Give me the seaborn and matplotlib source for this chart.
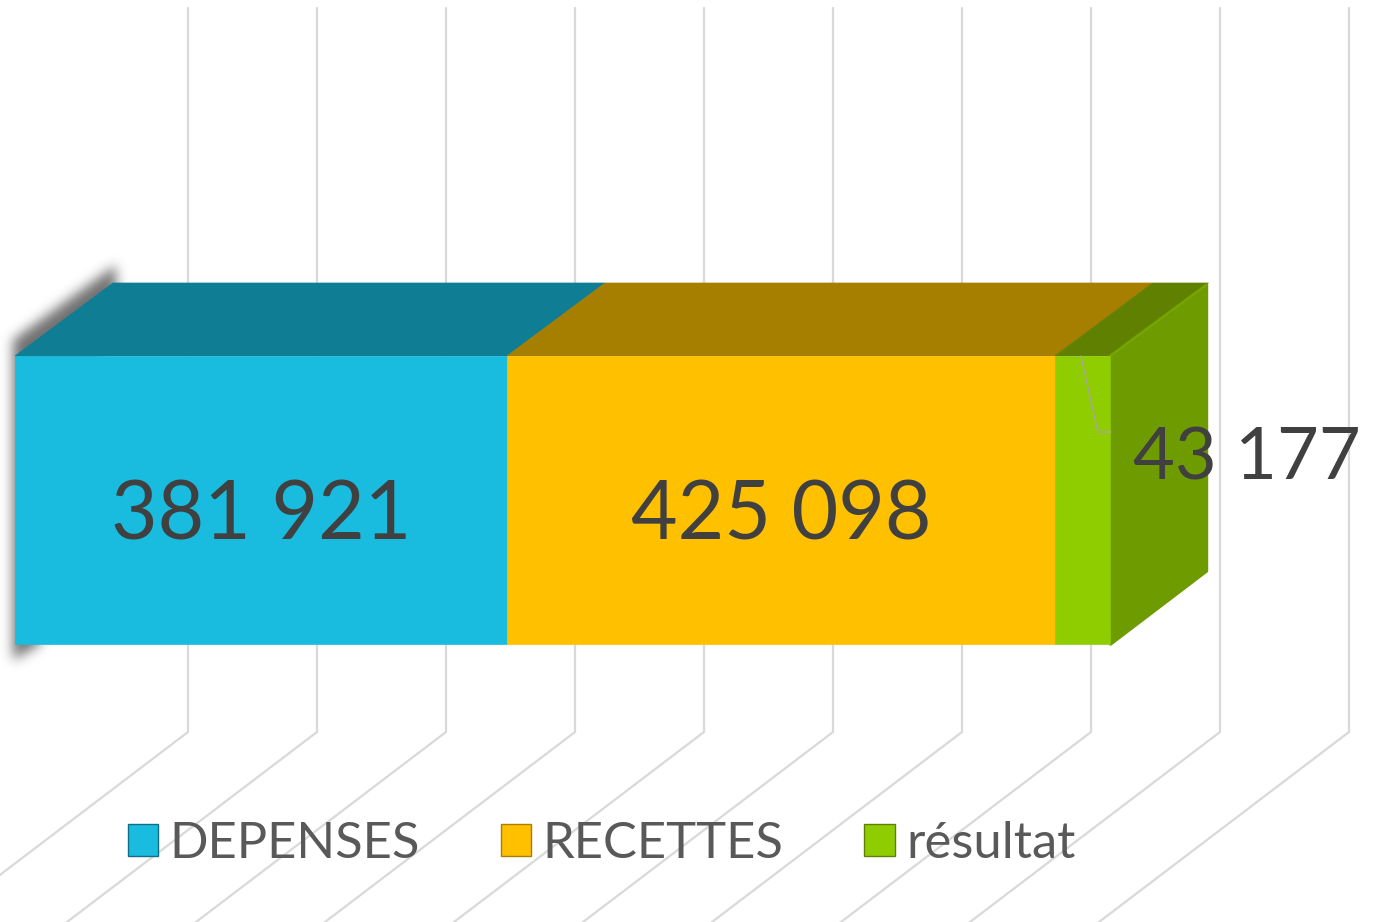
import numpy as np
import pandas as pd
import matplotlib.pyplot as plt
import seaborn as sns
from matplotlib.path import Path

# values
series_names = ['DEPENSES', 'RECETTES', 'résultat']
series_values = [381921, 425098, 43177]
value_labels = ['381 921', '425 098', '43 177']
grid_ticks = [100000, 200000, 300000, 400000, 500000, 600000, 700000, 800000, 900000, 1000000]

front_colors = ['#19BCDE', '#FFC000', '#8FCC00']
top_colors = ['#0F7E94', '#A67E00', '#5F8000']
side_color = '#6E9C00'
legend_edges = ['#0F6F85', '#A67E00', '#5F8000']

# the picture has no real 3D axes: px sizes are turned into data units
PX_PER_VALUE = 1.2885e-3
GRID_PX_PER_VALUE = 1.29e-3
PX_PER_ROW = 360.0
X0_PX = 15.0
Y0_PX = 500.0


def dx(px):
    return px / PX_PER_VALUE


def dy(px):
    return px / PX_PER_ROW


def blurred_shadow(corners, sigma=6.0, strength=0.7):
    """Gaussian-blurred polygon as an RGBA image of the whole figure (corners in px)."""
    xx, yy = np.meshgrid(np.arange(1382) + 0.5, np.arange(922) + 0.5)
    points = np.column_stack([xx.ravel(), yy.ravel()])
    mask = Path(corners).contains_points(points).reshape(xx.shape).astype(float)
    radius = int(3 * sigma)
    kernel = np.exp(-0.5 * (np.arange(-radius, radius + 1) / sigma) ** 2)
    kernel /= kernel.sum()
    mask = np.apply_along_axis(lambda r: np.convolve(r, kernel, mode='same'), 0, mask)
    mask = np.apply_along_axis(lambda r: np.convolve(r, kernel, mode='same'), 1, mask)
    rgba = np.zeros(mask.shape + (4,))
    rgba[..., :3] = 0.2
    rgba[..., 3] = mask * strength
    return rgba


sns.set_theme(style='white')
plt.rcParams['font.family'] = ['Lato', 'DejaVu Sans']

fig = plt.figure(figsize=(13.82, 9.22), dpi=100)
ax = fig.add_axes([0, 0, 1, 1])

# stacked horizontal bars
df = pd.DataFrame({'serie': series_names, 'value': series_values, 'row': 'total'})
df['start'] = df['value'].cumsum() - df['value']
bar_half = 0.4
for i, row in df.iterrows():
    sns.barplot(data=df.iloc[[i]], x='value', y='row', left=row['start'], color=front_colors[i],
                saturation=1, width=bar_half * 2, label=row['serie'], ax=ax, zorder=5,
                edgecolor=front_colors[i], linewidth=0.5)

x_limits = (-dx(X0_PX), dx(1382 - X0_PX))
y_limits = (dy(922 - Y0_PX), -dy(Y0_PX))

# back wall and floor grid lines
depth_x, depth_y = dx(98), dy(73)
grid_scale = GRID_PX_PER_VALUE / PX_PER_VALUE
grid_shift = dx(44)
wall_top, wall_bottom = dy(8 - Y0_PX), dy(732 - Y0_PX)
floor_x, floor_y = dx(-300), dy(228)
for tick in grid_ticks:
    wall_x = tick * grid_scale + grid_shift
    xs = [wall_x, wall_x, wall_x + floor_x]
    ys = [wall_top, wall_bottom, wall_bottom + floor_y]
    ax.plot(xs, ys, color='#D9D9D9', lw=1.6, zorder=1, solid_joinstyle='miter')

# soft shadow behind the left edge
shadow_px = [(13, 341), (116, 266), (116, 300), (40, 644), (13, 660)]
ax.imshow(blurred_shadow(shadow_px), extent=(x_limits[0], x_limits[1], y_limits[0], y_limits[1]),
          aspect='auto', origin='upper', zorder=2, interpolation='nearest')

# top faces of the 3D block
total = df['value'].sum()
for i, row in df.iterrows():
    a, b = row['start'], row['start'] + row['value']
    ax.fill([a, b, b + depth_x, a + depth_x],
            [-bar_half, -bar_half, -bar_half - depth_y, -bar_half - depth_y],
            color=top_colors[i], lw=0.5, zorder=4)

# right side face, slightly inset so the thick round edge gives the soft corners
ax.fill([total, total + depth_x - dx(2), total + depth_x - dx(2), total],
        [-bar_half, -bar_half - depth_y + dy(2), bar_half - depth_y, bar_half],
        facecolor=side_color, edgecolor=side_color, lw=2.5, joinstyle='round', zorder=4)
ax.plot([total, total + depth_x - dx(2)], [-bar_half, -bar_half - depth_y + dy(2)],
        color='#7BA800', lw=1, zorder=4)

# value labels
for i, row in df.iterrows():
    if i < 2:
        ax.text(row['start'] + row['value'] / 2, dy(17), value_labels[i], ha='center', va='center',
                fontsize=58, color='#404040', zorder=8)
ax.text(total + dx(23), dy(-41), value_labels[2], ha='left', va='center',
        fontsize=52, color='#404040', zorder=8)

# leader line of the small segment
small_start = df['start'].iloc[2]
ax.plot([small_start + dx(26), small_start + dx(43), small_start + dx(56)],
        [-bar_half, dy(-68), dy(-68)], color='#A6A6A6', lw=1, zorder=7)

ax.set_xlim(*x_limits)
ax.set_ylim(*y_limits)
ax.axis('off')

# legend
leg = ax.legend(loc='center', bbox_to_anchor=(601.5 / 1382, 1 - 844 / 922), ncol=3, frameon=False,
                fontsize=36.5, labelcolor='#595959', handlelength=0.6, handleheight=0.6,
                handletextpad=0.22, columnspacing=1.6, borderpad=0)
for handle, edge in zip(leg.legend_handles, legend_edges):
    handle.set_edgecolor(edge)
    handle.set_linewidth(1)

fig.savefig('out.png', dpi=100)
